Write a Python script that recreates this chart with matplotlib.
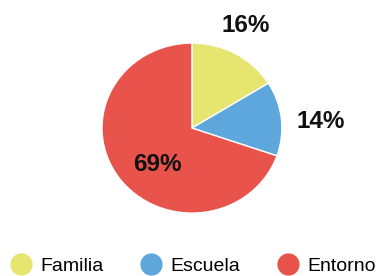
import numpy as np
import matplotlib.pyplot as plt
from matplotlib.lines import Line2D

plt.rcParams['font.family'] = ['Liberation Sans', 'DejaVu Sans']

# data
categories = ['Familia', 'Escuela', 'Entorno']
values = [16, 14, 69]
colors = ['#e6e56f', '#5ea7dc', '#e8534c']

# label placement (radius factor, angle offset in degrees)
label_r = [1.35, 1.43, 0.58]
label_dang = [2.7, -3.2, 12.7]

fig = plt.figure(figsize=(3.82, 2.76), dpi=100)
ax = fig.add_axes([0.267, 0.228, 0.471, 0.616])

wedges, _ = ax.pie(values, colors=colors, startangle=90, counterclock=False,
                   wedgeprops=dict(edgecolor='white', linewidth=1.0))
ax.set_aspect('auto')
ax.set_xlim(-1.0, 1.0)
ax.set_ylim(-1.0, 1.0)

for w, v, r, da in zip(wedges, values, label_r, label_dang):
    ang = np.deg2rad((w.theta1 + w.theta2) / 2 + da)
    ax.text(r * np.cos(ang), r * np.sin(ang), '%d%%' % v, ha='center', va='center',
            fontsize=17.5, fontweight='bold', color='#111111', clip_on=False)

handles = [Line2D([], [], marker='o', linestyle='', markersize=15,
                  markerfacecolor=c, markeredgecolor=c) for c in colors]
fig.legend(handles, categories, loc='center', bbox_to_anchor=(0.507, 0.036),
           ncol=3, frameon=False, fontsize=14, handlelength=1.0,
           handletextpad=0.5, columnspacing=1.95, borderpad=0)

fig.savefig('out.png', dpi=100, facecolor='white')
